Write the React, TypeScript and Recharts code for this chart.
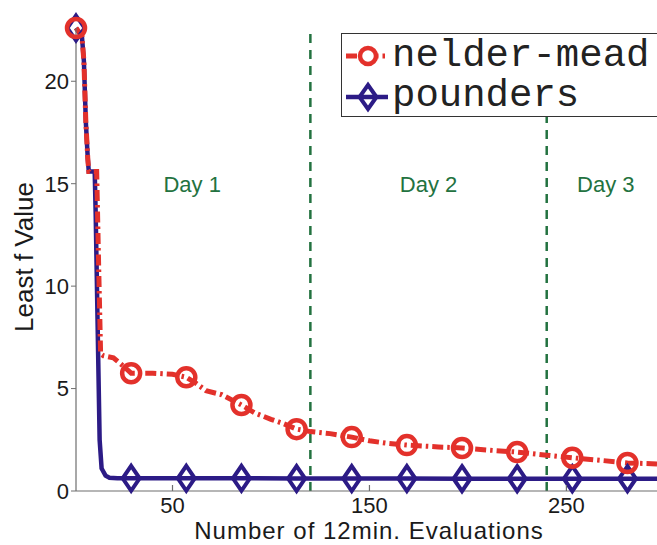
import { LineChart, Line, XAxis, YAxis, ReferenceLine, ReferenceDot } from 'recharts';

// evaluations (x) and least f value (y)
const nelderX = [1, 4, 5, 6, 7, 7.5, 11.5, 12.5, 13.5, 15, 20, 25, 29, 40, 50, 57, 62, 67, 75, 85, 92, 100, 106, 113, 120, 130, 141, 150, 159, 169, 185, 197, 210, 225, 240, 253, 267, 281, 296];
const nelderY = [22.6, 22.2, 21, 18, 16.2, 15.6, 15.6, 11, 6.7, 6.6, 6.5, 6.1, 5.75, 5.75, 5.7, 5.55, 5.25, 4.9, 4.7, 4.2, 3.8, 3.5, 3.3, 3.02, 2.9, 2.8, 2.63, 2.45, 2.33, 2.24, 2.15, 2.1, 2.0, 1.9, 1.75, 1.62, 1.5, 1.37, 1.32];

const poundersX = [1, 4, 5, 6, 7, 7.5, 10.5, 11, 12, 13, 14, 16, 18, 22, 29, 57, 85, 113, 141, 169, 197, 225, 253, 281, 296];
const poundersY = [22.6, 22.2, 21, 18, 16.2, 15.6, 15.6, 13.5, 8, 2.5, 1.1, 0.75, 0.65, 0.62, 0.62, 0.62, 0.62, 0.61, 0.61, 0.61, 0.6, 0.6, 0.6, 0.6, 0.6];

// matlab draws a marker every 28 evaluations
const markerX = [1, 29, 57, 85, 113, 141, 169, 197, 225, 253, 281];

const xTicks = [50, 150, 250];
const yTicks = [0, 5, 10, 15, 20];
const dayBreaks = [120, 240];
const dayLabels = ['Day 1', 'Day 2', 'Day 3'];
const dayLabelX = [60, 180, 270];
const dayLabelY = 15;

const nelderData = nelderX.map((x, i) => ({ x, y: nelderY[i] }));
const poundersData = poundersX.map((x, i) => ({ x, y: poundersY[i] }));

const RED = '#e3312b';
const BLUE = '#2c1b86';
const GREEN = '#237240';
const AXIS = '#6e6e6e';
const SANS = '"Liberation Sans", Arial, sans-serif';
const MONO = '"Liberation Mono", "Courier New", monospace';

function CircleDot(props: any) {
  const { cx, cy, payload, index } = props;
  if (!markerX.includes(payload.x)) return <g key={`c${index}`} />;
  return <circle key={`c${index}`} cx={cx} cy={cy} r={9} fill="none" stroke={RED} strokeWidth={4.5} />;
}

function DiamondDot(props: any) {
  const { cx, cy, payload, index } = props;
  if (!markerX.includes(payload.x)) return <g key={`d${index}`} />;
  return (
    <path
      key={`d${index}`}
      d={`M${cx},${cy - 12.5} L${cx + 8.5},${cy} L${cx},${cy + 12.5} L${cx - 8.5},${cy} Z`}
      fill="none"
      stroke={BLUE}
      strokeWidth={4}
    />
  );
}

function BottomTick({ x, y, payload }: any) {
  return (
    <g>
      <line x1={x} y1={y} x2={x} y2={y - 6} stroke={AXIS} strokeWidth={1.2} />
      <text x={x} y={y + 22} textAnchor="middle" fontSize={22} fill="#1a1a1a" fontFamily={SANS}>
        {payload.value}
      </text>
    </g>
  );
}

export default function App() {
  return (
    <div style={{ position: 'fixed', left: 0, top: 0, width: 657, height: 545, background: '#fff', fontFamily: SANS, overflow: 'hidden' }}>
      <LineChart width={657} height={545} margin={{ top: 28, right: 0, bottom: 0, left: 0 }}>
        <XAxis
          dataKey="x"
          type="number"
          domain={[1, 296]}
          ticks={xTicks}
          height={54}
          tickSize={0}
          tickMargin={0}
          tickLine={false}
          tick={<BottomTick />}
          axisLine={{ stroke: AXIS, strokeWidth: 1.2 }}
        />
        <XAxis
          xAxisId="top"
          orientation="top"
          type="number"
          domain={[1, 296]}
          ticks={xTicks}
          height={0}
          mirror
          tickSize={5}
          tick={false}
          tickLine={{ stroke: AXIS }}
          axisLine={{ stroke: AXIS, strokeWidth: 1.2 }}
        />
        <YAxis
          type="number"
          domain={[0, 22.6]}
          ticks={yTicks}
          width={76}
          tickSize={5}
          tickMargin={2}
          tick={{ fontSize: 22, fill: '#1a1a1a', fontFamily: SANS }}
          tickLine={{ stroke: AXIS }}
          axisLine={{ stroke: AXIS, strokeWidth: 1.2 }}
        />
        {dayBreaks.map((d) => (
          <ReferenceLine key={d} x={d} stroke={GREEN} strokeWidth={2.5} strokeDasharray="9 7" />
        ))}
        {dayLabels.map((label, i) => (
          <ReferenceDot
            key={label}
            x={dayLabelX[i]}
            y={dayLabelY}
            r={1}
            fill="none"
            stroke="none"
            label={{ value: label, position: 'center', fill: GREEN, fontSize: 22, fontFamily: SANS }}
          />
        ))}
        <Line
          data={poundersData}
          dataKey="y"
          type="linear"
          stroke={BLUE}
          strokeWidth={4.5}
          dot={DiamondDot}
          activeDot={false}
          isAnimationActive={false}
        />
        <Line
          data={nelderData}
          dataKey="y"
          type="linear"
          stroke={RED}
          strokeWidth={5}
          strokeDasharray="11 4 2.5 4"
          dot={CircleDot}
          activeDot={false}
          isAnimationActive={false}
        />
      </LineChart>

      {/* axis titles */}
      <div style={{ position: 'absolute', left: 369, top: 518, transform: 'translateX(-50%)', fontSize: 24, letterSpacing: 1, color: '#1a1a1a', whiteSpace: 'nowrap', lineHeight: '26px', height: 26 }}>
        Number of 12min. Evaluations
      </div>
      <div style={{ position: 'absolute', left: 24, top: 257, transform: 'translate(-50%, -50%) rotate(-90deg)', fontSize: 26, color: '#1a1a1a', whiteSpace: 'nowrap', lineHeight: 1 }}>
        Least f Value
      </div>

      {/* legend */}
      <div style={{ position: 'absolute', left: 341, top: 33, width: 330, height: 84, boxSizing: 'border-box', border: '1.5px solid #333', background: '#fff' }}>
        <svg width={50} height={84} style={{ position: 'absolute', left: 0, top: 0 }}>
          <line x1={4} y1={22} x2={46} y2={22} stroke={RED} strokeWidth={5} strokeDasharray="11 4 2.5 4" />
          <circle cx={26} cy={22} r={8} fill="#fff" stroke={RED} strokeWidth={4.5} />
          <line x1={4} y1={63} x2={46} y2={63} stroke={BLUE} strokeWidth={4.5} />
          <path d="M26,51 L34.5,63 L26,75 L17.5,63 Z" fill="none" stroke={BLUE} strokeWidth={4} />
        </svg>
        <div style={{ position: 'absolute', left: 50, top: 2, fontFamily: MONO, fontSize: 39, lineHeight: '40px', color: '#222', whiteSpace: 'nowrap' }}>
          nelder-mead
        </div>
        <div style={{ position: 'absolute', left: 50, top: 42, fontFamily: MONO, fontSize: 39, lineHeight: '40px', color: '#222', whiteSpace: 'nowrap' }}>
          pounders
        </div>
      </div>
    </div>
  );
}
